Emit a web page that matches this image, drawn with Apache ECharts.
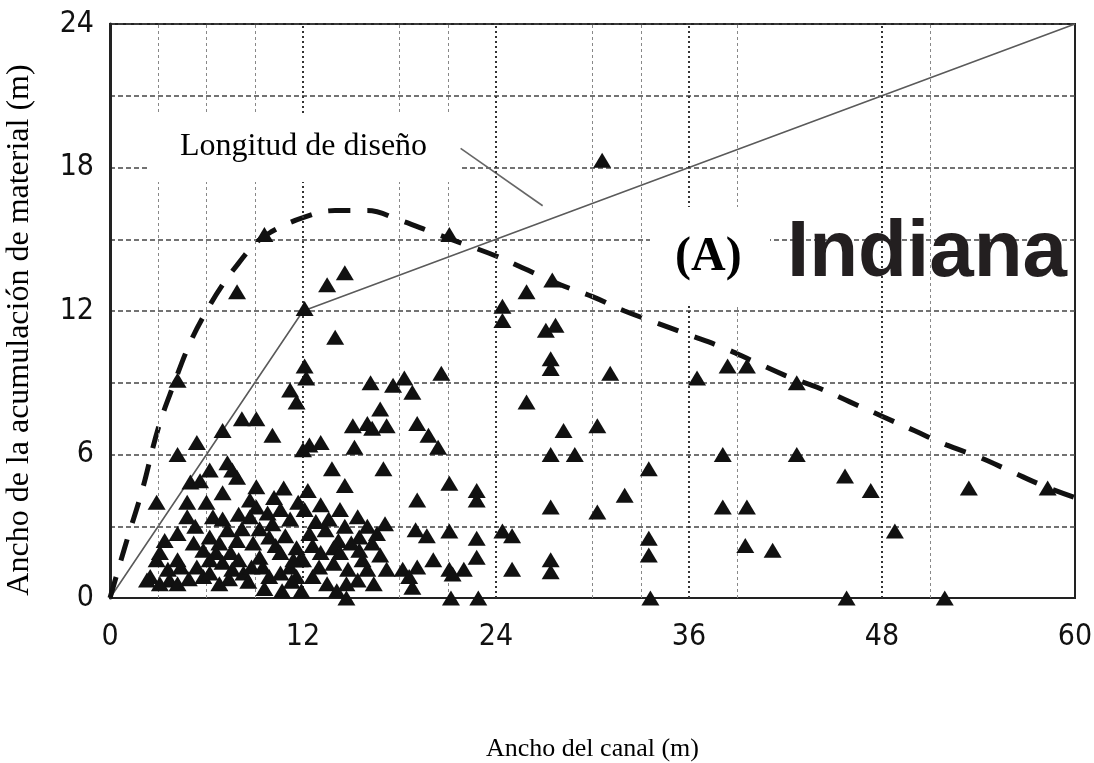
<!DOCTYPE html>
<html>
<head>
<meta charset="utf-8">
<script src="https://cdn.jsdelivr.net/npm/echarts@6/dist/echarts.min.js"></script>
<style>
html,body{margin:0;padding:0;background:#fff;}
#chart{width:1094px;height:763px;}
</style>
</head>
<body>
<div id="chart"></div>
<script>
// ---- data ----
const xTicks = [0, 12, 24, 36, 48, 60];
const yTicks = [0, 6, 12, 18, 24];
const gridX = [3, 6, 9, 12, 18, 21, 24, 30, 33, 36, 39, 48, 51];
const gridXMajor = [12, 24, 36, 48];

// Longitud de diseño (solid line)
const longitudDiseno = [[0, 0], [12, 12], [60, 24]];

// Envelope (thick dashed curve)
const envolvente = [[0,0],[1,2.3],[2,4.5],[3,7.1],[4,9.0],[5,10.7],[6,12.0],[7,13.1],[8,14.0],[9,14.8],[10,15.3],[12,15.9],[14,16.2],[16,16.2],[18,15.8],[20,15.3],[22,14.8],[24,14.3],[26,13.7],[28,13.1],[30,12.6],[32,12.0],[34,11.5],[36,11.0],[38,10.5],[40,9.9],[42,9.3],[44,8.8],[46,8.2],[48,7.6],[50,7.0],[52,6.4],[54,5.9],[56,5.3],[58,4.7],[60,4.2]];

// Leader line from label to design line
const lineaIndicadora = [[21.8, 18.8], [26.9, 16.4]];

// Observed sites (triangles)
const observaciones = [
 [9.6,15.2],[7.9,12.8],[12.1,12.1],[13.5,13.1],[14.6,13.6],[14.0,10.9],[21.1,15.2],[30.6,18.3],
 [4.2,9.1],[12.1,9.7],[12.2,9.2],[11.2,8.7],[11.6,8.2],
 [16.2,9.0],[17.6,8.9],[18.3,9.2],[18.8,8.6],[16.8,7.9],[20.6,9.4],
 [24.4,12.2],[24.4,11.6],[25.9,12.8],[27.5,13.3],[27.1,11.2],[27.7,11.4],[27.4,10.0],[27.4,9.6],
 [31.1,9.4],[36.5,9.2],[38.4,9.7],[39.6,9.7],[42.7,9.0],[25.9,8.2],
 [28.2,7.0],[30.3,7.2],[27.4,6.0],[28.9,6.0],[38.1,6.0],[42.7,6.0],[33.5,5.4],
 [45.7,5.1],[47.3,4.5],[53.4,4.6],[58.3,4.6],[48.8,2.8],
 [21.1,4.8],[22.8,4.5],[22.8,4.1],[27.4,3.8],[30.3,3.6],[32.0,4.3],[38.1,3.8],[39.6,3.8],
 [21.1,2.8],[22.8,2.5],[24.4,2.8],[25.0,2.6],[22.8,1.7],[21.1,1.2],[22.0,1.2],[20.1,1.6],[25.0,1.2],[27.4,1.6],[27.4,1.1],
 [33.5,2.5],[33.5,1.8],[39.5,2.2],[41.2,2.0],
 [14.7,0],[21.2,0],[22.9,0],[33.6,0],[45.8,0],[51.9,0],
 [7.0,7.0],[8.2,7.5],[9.1,7.5],[10.1,6.8],[5.4,6.5],[4.2,6.0],[12.0,6.2],
 [15.1,7.2],[16.0,7.3],[16.3,7.1],[17.2,7.2],[19.1,7.3],[19.8,6.8],[20.4,6.3],
 [12.4,6.4],[13.1,6.5],[15.2,6.3],[13.8,5.4],[17.0,5.4],[14.6,4.7],
 [19.1,4.1],[13.1,3.9],[14.3,3.7],[15.4,3.4],[17.1,3.1],[12.1,3.7],[19.0,2.85],[19.7,2.6],
 [12.4,2.7],[13.4,2.85],[13.9,2.1],[15.5,2.55],[15.5,2.0],[15.7,1.6],[13.9,1.45],[13.1,1.9],[11.8,1.6],[12.6,0.9],[13.5,0.6],[14.7,0.6],[15.4,0.75],
 [12.8,3.2],[13.6,3.3],[14.2,2.4],[12.6,2.2],[14.8,1.2],[16.0,3.0],[16.3,2.3],[16.0,1.2],
 [17.2,1.2],[18.2,1.2],[19.1,1.3],[18.6,0.9],[21.3,1.0],[18.8,0.45],
 [2.9,4.0],[6.2,5.35],[7.3,5.65],[7.6,5.35],[7.9,5.05],[5.0,4.85],[5.6,4.9],[9.1,4.65],[10.8,4.6],
 [4.8,4.0],[6.0,4.0],[4.8,3.4],[6.4,3.4],[7.0,3.3],[8.7,4.1],[9.1,3.8],[8.7,3.4],[9.8,3.55],[10.6,3.7],[11.2,3.3],
 [4.2,2.7],[5.2,2.3],[6.2,2.55],[7.3,2.85],[6.8,2.3],[7.9,2.4],[8.9,2.3],[9.9,2.55],[9.3,1.7],[10.6,1.9],[11.6,2.1],[12.0,1.6],
 [3.1,1.9],[2.9,1.6],[4.2,1.6],[4.4,1.3],[6.2,1.6],[5.8,0.9],[6.2,1.05],[7.5,1.9],[7.6,1.2],[8.3,1.05],
 [2.5,0.9],[2.3,0.75],[3.7,0.75],[4.2,0.6],[3.1,0.6],[9.5,1.3],[9.9,0.9],[10.6,1.05],[11.2,1.3],[11.6,0.9],[10.7,0.3],[11.9,0.3],[7.0,1.5],[7.4,0.8],
 [5.3,3.0],[5.8,2.0],[6.6,1.9],[7.0,4.4],[8.0,3.5],[8.2,2.9],[8.0,1.6],[8.6,0.7],[9.3,2.9],[10.1,3.1],[10.3,2.2],[10.9,2.6],
 [11.4,1.6],[10.2,4.2],[11.7,4.0],[5.4,1.3],[4.9,0.8],[3.6,1.2],[3.4,2.4],[6.8,0.6],[8.8,1.3],[9.6,0.4],[11.3,0.7],
 [13.0,1.3],[14.3,1.9],[14.6,3.0],[15.0,2.3],[16.6,2.7],[16.8,1.8],[12.3,4.5],[16.4,0.6],[14.1,0.3]
];

const labelFont = "'Liberation Sans Narrow','DejaVu Sans Condensed','Liberation Sans',sans-serif";
const serifFont = "'Liberation Serif','Times New Roman',serif";

const chart = echarts.init(document.getElementById('chart'), null, {renderer: 'canvas'});

const vLines = gridX.map(v => {
  const major = gridXMajor.indexOf(v) >= 0;
  return {
    xAxis: v,
    lineStyle: major
      ? {color: '#333', width: 2, type: [2, 3]}
      : {color: '#888', width: 1, type: [3, 3]}
  };
});

chart.setOption({
  animation: false,
  backgroundColor: '#fff',
  grid: {left: 110, right: 19, top: 24, bottom: 165, containLabel: false, outerBoundsMode: 'none',
    show: true, borderColor: '#222', borderWidth: 2, backgroundColor: 'transparent'},
  xAxis: {
    type: 'value', min: 0, max: 60, interval: 12,
    axisLine: {show: true, onZero: false, lineStyle: {color: '#222', width: 2}},
    axisTick: {show: false},
    splitLine: {show: false},
    axisLabel: {color: '#111', fontSize: 30, fontFamily: labelFont, margin: 24,
      formatter: v => xTicks.indexOf(v) >= 0 ? String(v) : ''},
    name: 'Ancho del canal (m)', nameLocation: 'middle', nameGap: 138,
    nameTextStyle: {fontFamily: serifFont, fontSize: 26, color: '#000'}
  },
  yAxis: {
    type: 'value', min: 0, max: 24, interval: 3,
    axisLine: {show: true, onZero: false, lineStyle: {color: '#222', width: 3}},
    axisTick: {show: false},
    splitLine: {show: true, lineStyle: {color: '#444', width: 1.5, type: [5, 3]}},
    axisLabel: {color: '#111', fontSize: 30, fontFamily: labelFont, margin: 16,
      formatter: v => yTicks.indexOf(v) >= 0 ? String(v) : ''},
    name: 'Ancho de la acumulación de material (m)', nameLocation: 'middle', nameGap: 74,
    nameTextStyle: {fontFamily: serifFont, fontSize: 32, color: '#000', padding: [0, 38, 0, 0]}
  },
  series: [
    {
      type: 'line', data: [], silent: true, z: 1,
      markLine: {silent: true, symbol: ['none', 'none'], label: {show: false}, animation: false, data: vLines}
    },
    {
      type: 'line', data: longitudDiseno, showSymbol: false, symbol: 'none', z: 3,
      lineStyle: {color: '#5a5a5a', width: 1.6}
    },
    {
      type: 'line', data: lineaIndicadora, showSymbol: false, symbol: 'none', z: 3,
      lineStyle: {color: '#666', width: 1.6}
    },
    {
      type: 'line', data: envolvente, smooth: 0.4, showSymbol: false, symbol: 'none', z: 4,
      lineStyle: {color: '#111', width: 5, type: [22, 17], cap: 'butt'}
    },
    {
      type: 'scatter', data: observaciones, symbol: 'triangle', symbolSize: [18, 15], z: 5,
      itemStyle: {color: '#111', opacity: 1}
    }
  ],
  graphic: [
    {type: 'rect', z: 50, shape: {x: 150, y: 115, width: 310, height: 67}, style: {fill: '#fff'}},
    {type: 'text', z: 51, style: {text: 'Longitud de diseño', x: 180, y: 147, font: '32px ' + serifFont, fill: '#000', verticalAlign: 'middle', align: 'left'}},
    {type: 'rect', z: 50, shape: {x: 650, y: 207, width: 120, height: 98}, style: {fill: '#fff'}},
    {type: 'text', z: 51, style: {text: '(A)', x: 675, y: 258, font: 'bold 48px ' + serifFont, fill: '#000', verticalAlign: 'middle', align: 'left'}},
    {type: 'text', z: 51, style: {text: 'Indiana', x: 787, y: 254, font: 'bold 80px "Liberation Sans", Arial, sans-serif', fill: '#231f20', verticalAlign: 'middle', align: 'left'}}
  ]
});
</script>
</body>
</html>
